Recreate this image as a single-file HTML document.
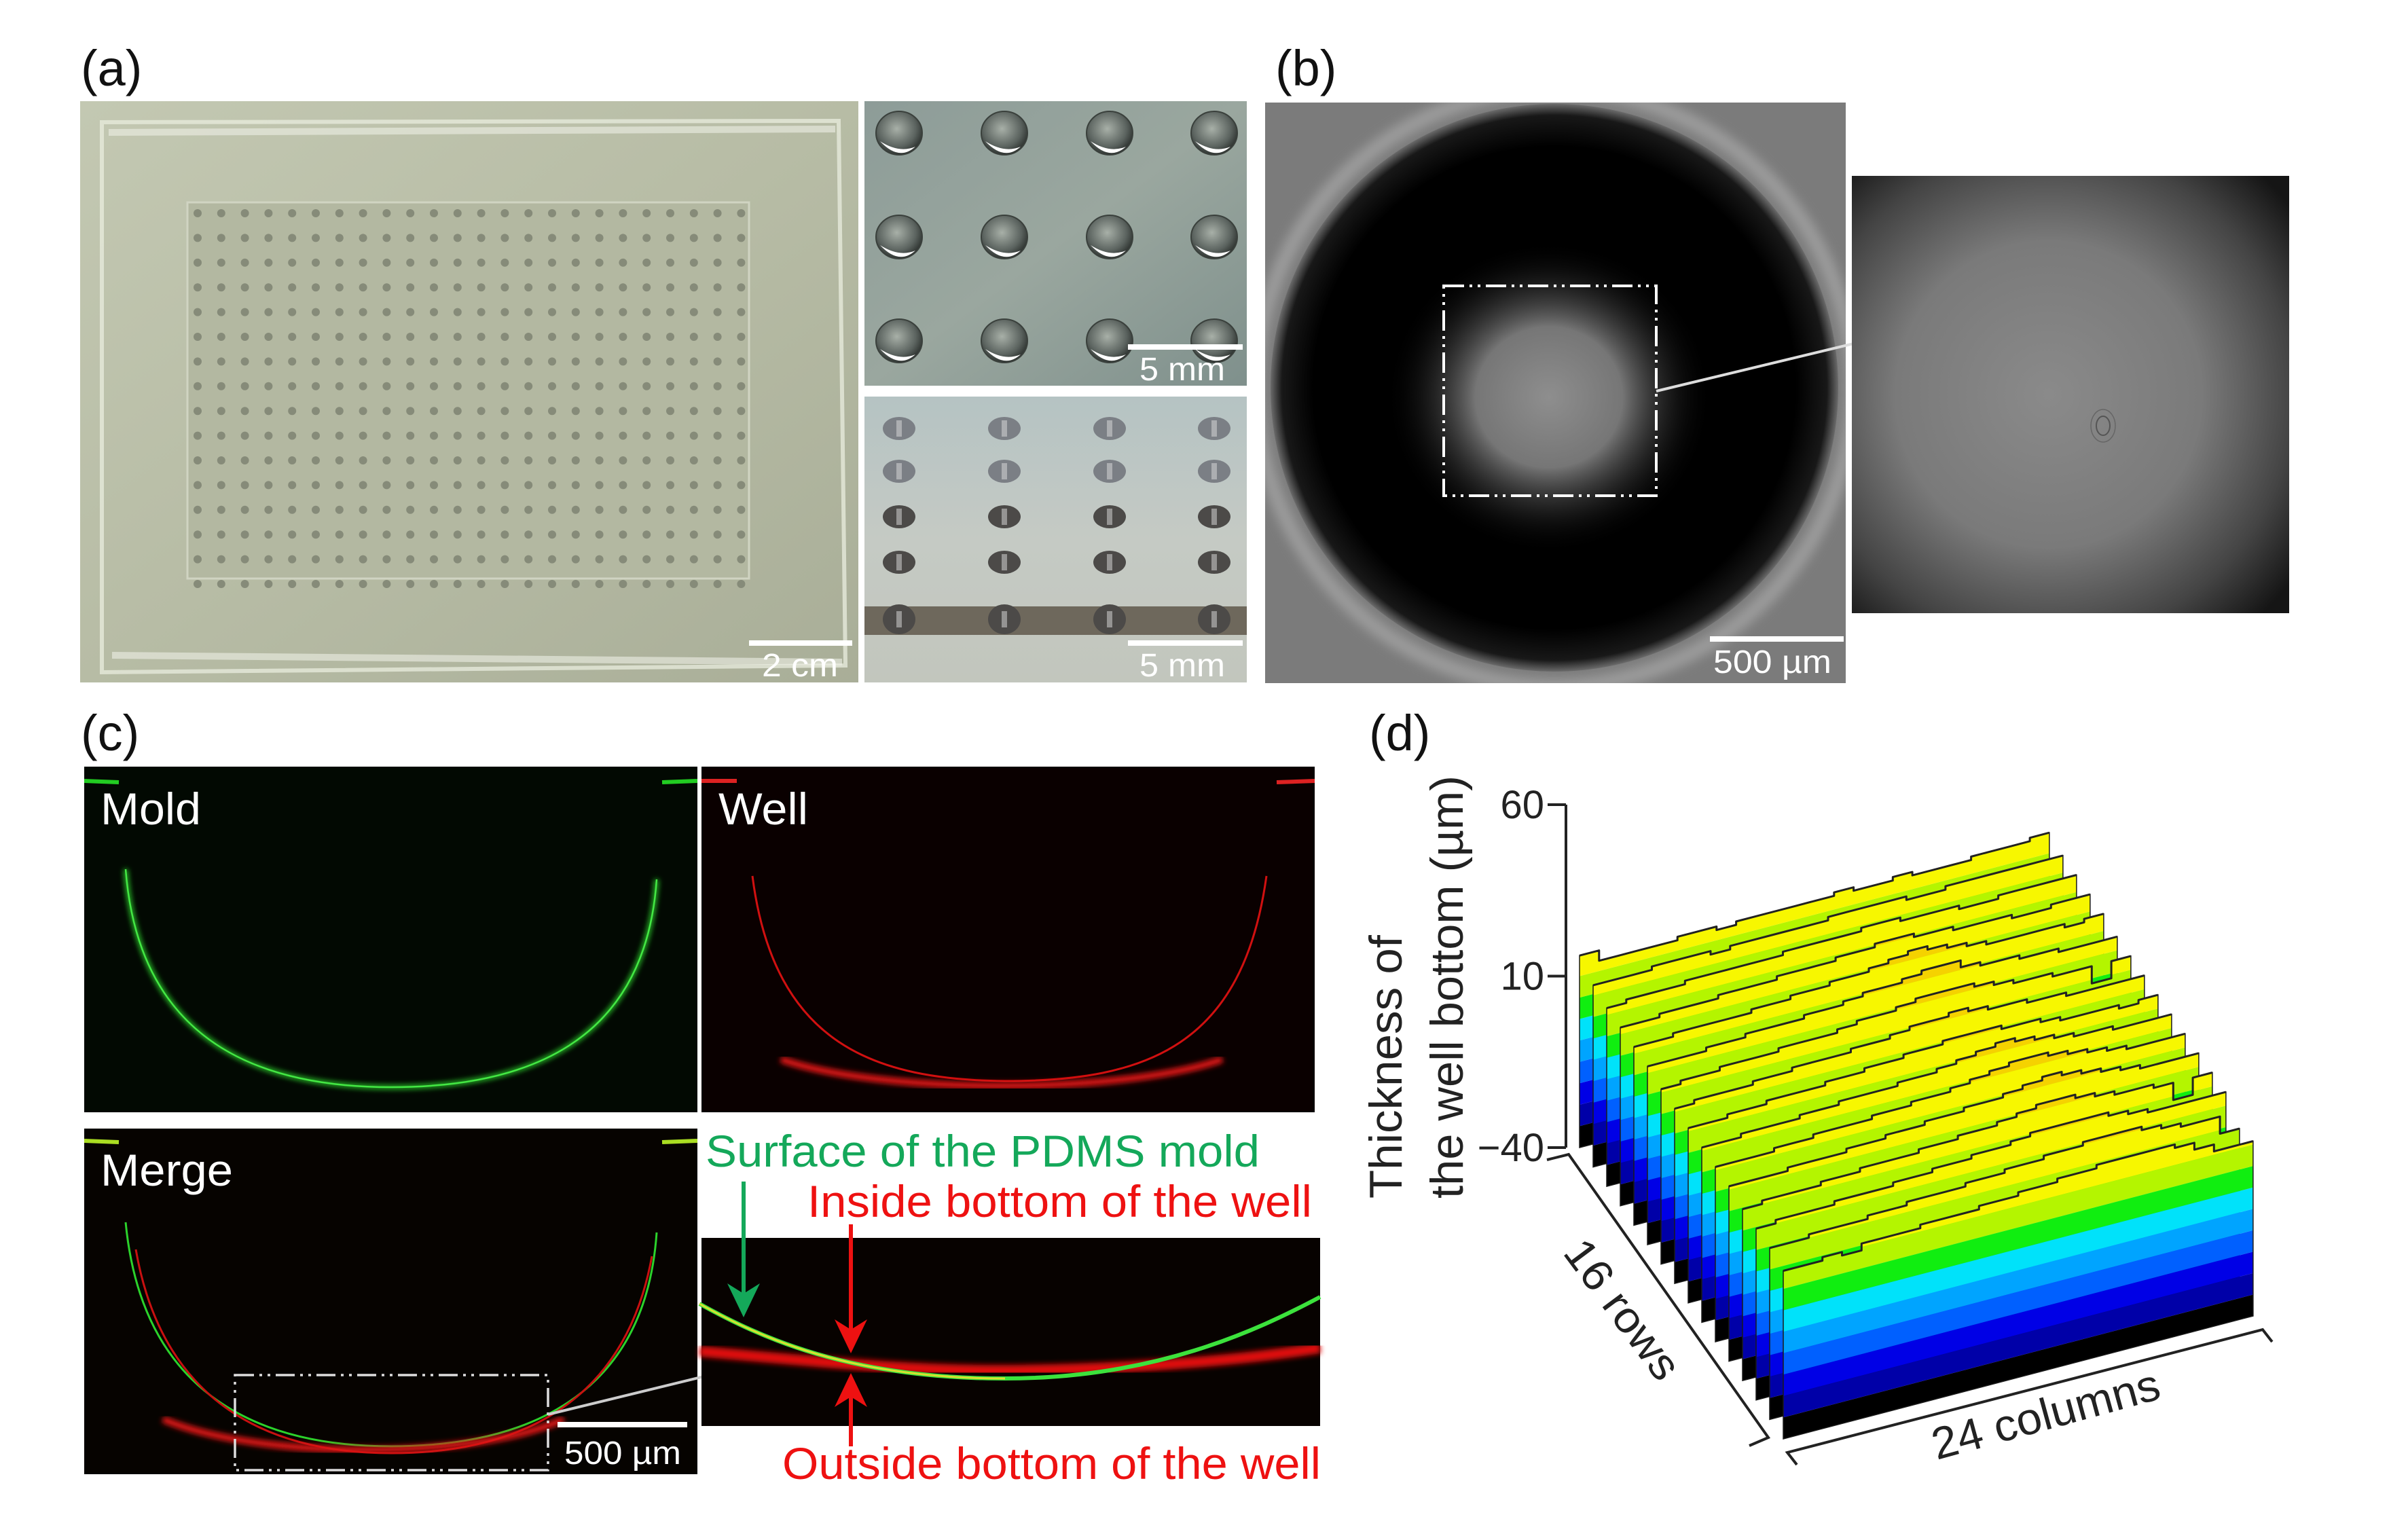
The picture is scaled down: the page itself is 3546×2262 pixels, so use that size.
<!DOCTYPE html>
<html><head><meta charset="utf-8"><style>
html,body{margin:0;padding:0;background:#fff;}
svg{display:block;}
text{font-family:"Liberation Sans",Arial,sans-serif;}
</style></head><body>
<svg id="fig" xmlns="http://www.w3.org/2000/svg" width="3546" height="2262" viewBox="0 0 3546 2262">
<defs>
  <linearGradient id="gA" x1="0" y1="0" x2="1" y2="1"><stop offset="0" stop-color="#c3c8b2"/><stop offset="0.5" stop-color="#b7bca5"/><stop offset="1" stop-color="#a9ae98"/></linearGradient>
  <linearGradient id="gTR" x1="0" y1="0" x2="1" y2="1"><stop offset="0" stop-color="#8d9c98"/><stop offset="0.5" stop-color="#9aa79f"/><stop offset="1" stop-color="#7f908c"/></linearGradient>
  <linearGradient id="gBR" x1="0" y1="0" x2="0" y2="1"><stop offset="0" stop-color="#b5c3c3"/><stop offset="0.5" stop-color="#c5cac4"/><stop offset="1" stop-color="#c2c6bd"/></linearGradient>
  <radialGradient id="gWell" cx="0.45" cy="0.4" r="0.6"><stop offset="0" stop-color="#a8b0a8"/><stop offset="0.7" stop-color="#5a625e"/><stop offset="1" stop-color="#2e3330"/></radialGradient>
  <radialGradient id="gBlack" cx="0.5" cy="0.5" r="0.5"><stop offset="0.85" stop-color="#000"/><stop offset="0.96" stop-color="#181818"/><stop offset="1" stop-color="#6a6a6a"/></radialGradient>
  <radialGradient id="gGlow" cx="0.5" cy="0.5" r="0.5"><stop offset="0" stop-color="#8e8e8e"/><stop offset="0.45" stop-color="#767676"/><stop offset="1" stop-color="#000" stop-opacity="0"/></radialGradient>
  <radialGradient id="gZoomB" cx="0.45" cy="0.5" r="0.7"><stop offset="0" stop-color="#8a8a8a"/><stop offset="0.5" stop-color="#7a7a7a"/><stop offset="0.8" stop-color="#444"/><stop offset="1" stop-color="#151515"/></radialGradient>
  <filter id="blur4"><feGaussianBlur stdDeviation="4"/></filter>
  <filter id="blur8"><feGaussianBlur stdDeviation="8"/></filter>
</defs>

<text x="119" y="126" font-size="74" fill="#111">(a)</text>
<text x="1878" y="126" font-size="74" fill="#111">(b)</text>
<text x="119" y="1105" font-size="74" fill="#111">(c)</text>
<text x="2016" y="1105" font-size="74" fill="#111">(d)</text>

<g>
  <rect x="118" y="149" width="1146" height="856" fill="url(#gA)"/>
  <path d="M150 180 L1235 178 L1245 980 L150 990 Z" fill="none" stroke="#e6eadb" stroke-width="6" opacity="0.8"/>
  <path d="M160 195 L1230 190" stroke="#eef0e6" stroke-width="10" opacity="0.6"/>
  <path d="M165 965 L1240 975" stroke="#eef0e6" stroke-width="10" opacity="0.6"/>
  <rect x="276" y="298" width="827" height="554" fill="#b3b8a1" stroke="#d0d4c2" stroke-width="3"/>
  <g id="dotgrid"></g>
  <line x1="1103" y1="947" x2="1255" y2="947" stroke="#fff" stroke-width="8"/>
  <text x="1122" y="996" font-size="48" fill="#fff" textLength="112" lengthAdjust="spacingAndGlyphs">2 cm</text>
</g>

<g>
  <rect x="1273" y="149" width="563" height="419" fill="url(#gTR)"/>
  <g id="wellsTop"></g>
  <line x1="1661" y1="511" x2="1830" y2="511" stroke="#fff" stroke-width="8"/>
  <text x="1678" y="560" font-size="48" fill="#fff" textLength="126" lengthAdjust="spacingAndGlyphs">5 mm</text>
</g>

<g>
  <rect x="1273" y="584" width="563" height="421" fill="url(#gBR)"/>
  <rect x="1273" y="893" width="563" height="42" fill="#6e685c"/>
  <g id="wellsSide"></g>
  <line x1="1661" y1="947" x2="1830" y2="947" stroke="#fff" stroke-width="8"/>
  <text x="1678" y="996" font-size="48" fill="#fff" textLength="126" lengthAdjust="spacingAndGlyphs">5 mm</text>
</g>

<g>
  <svg x="1863" y="151" width="855" height="855" viewBox="1863 151 855 855" overflow="hidden">
    <rect x="1863" y="151" width="855" height="855" fill="#7b7b7b"/>
    <ellipse cx="2289" cy="571" rx="440" ry="440" fill="none" stroke="#9c9c9c" stroke-width="22" filter="url(#blur8)"/>
    <ellipse cx="2289" cy="571" rx="418" ry="418" fill="url(#gBlack)"/>
    <ellipse cx="2281" cy="585" rx="240" ry="230" fill="url(#gGlow)"/>
  </svg>
  <rect x="2126" y="421" width="313" height="309" fill="none" stroke="#fff" stroke-width="4" stroke-dasharray="30 8 4 8 4 8"/>
  <line x1="2439" y1="576" x2="2742" y2="503" stroke="#ddd" stroke-width="4"/>
  <line x1="2518" y1="941" x2="2715" y2="941" stroke="#fff" stroke-width="8"/>
  <text x="2523" y="991" font-size="48" fill="#fff" textLength="174" lengthAdjust="spacingAndGlyphs">500 µm</text>
</g>
<g>
  <rect x="2727" y="259" width="644" height="644" fill="url(#gZoomB)"/>
  <ellipse cx="3097" cy="627" rx="10" ry="14" fill="none" stroke="#555" stroke-width="2"/>
  <ellipse cx="3097" cy="627" rx="18" ry="24" fill="none" stroke="#666" stroke-width="1.5"/>
</g>

<g>
  <rect x="124" y="1129" width="903" height="509" fill="#020902"/>
  <path d="M185 1280 C 205 1540 390 1601 576 1601 C 770 1601 950 1540 967 1295" fill="none" stroke="#2bd22b" stroke-width="6" filter="url(#blur4)"/>
  <path d="M185 1280 C 205 1540 390 1601 576 1601 C 770 1601 950 1540 967 1295" fill="none" stroke="#44e844" stroke-width="2.5"/>
  <path d="M124 1150 L175 1152" stroke="#2c2" stroke-width="6"/><path d="M975 1152 L1027 1150" stroke="#2c2" stroke-width="6"/>
  <text x="148" y="1214" font-size="66" fill="#fff" textLength="148" lengthAdjust="spacingAndGlyphs">Mold</text>
</g>
<g>
  <rect x="1033" y="1129" width="903" height="509" fill="#0a0000"/>
  <path d="M1108 1290 C 1140 1540 1290 1590 1480 1592 C 1690 1592 1830 1540 1865 1290" fill="none" stroke="#d01010" stroke-width="3"/>
  <path d="M1150 1560 C 1300 1612 1650 1612 1800 1560" fill="none" stroke="#e01515" stroke-width="10" filter="url(#blur4)"/>
  <path d="M1033 1150 L1085 1150" stroke="#d22" stroke-width="6"/><path d="M1880 1152 L1936 1150" stroke="#d22" stroke-width="6"/>
  <text x="1058" y="1214" font-size="66" fill="#fff" textLength="132" lengthAdjust="spacingAndGlyphs">Well</text>
</g>
<g>
  <rect x="124" y="1662" width="903" height="509" fill="#060300"/>
  <path d="M185 1800 C 210 2060 390 2130 576 2130 C 770 2130 950 2060 967 1815" fill="none" stroke="#2bd22b" stroke-width="3"/>
  <path d="M200 1840 C 240 2070 400 2140 576 2140 C 760 2140 920 2070 960 1850" fill="none" stroke="#c81010" stroke-width="3"/>
  <path d="M240 2090 C 380 2150 700 2150 830 2090" fill="none" stroke="#e01515" stroke-width="10" filter="url(#blur4)"/>
  <path d="M124 1680 L175 1682" stroke="#ad2" stroke-width="6"/><path d="M975 1682 L1027 1680" stroke="#ad2" stroke-width="6"/>
  <text x="148" y="1746" font-size="66" fill="#fff" textLength="195" lengthAdjust="spacingAndGlyphs">Merge</text>
  <rect x="346" y="2025" width="461" height="140" fill="none" stroke="#ddd" stroke-width="3.5" stroke-dasharray="28 8 4 8 4 8"/>
  <line x1="807" y1="2083" x2="1045" y2="2025" stroke="#ccc" stroke-width="4"/>
  <line x1="821" y1="2098" x2="1012" y2="2098" stroke="#fff" stroke-width="8"/>
  <text x="831" y="2156" font-size="48" fill="#fff" textLength="172" lengthAdjust="spacingAndGlyphs">500 µm</text>
</g>
<g>
  <rect x="1033" y="1823" width="911" height="277" fill="#070200"/>
  <path d="M1030 1990 C 1200 2005 1350 2020 1500 2018 C 1700 2015 1850 2000 1944 1985" fill="none" stroke="#e01010" stroke-width="16" filter="url(#blur4)"/>
  <path d="M1030 1920 C 1120 1970 1250 2030 1480 2030 C 1700 2030 1850 1960 1944 1910" fill="none" stroke="#3ce23c" stroke-width="6"/>
  <path d="M1030 1920 C 1120 1970 1250 2030 1480 2030" fill="none" stroke="#d8e030" stroke-width="3"/>
</g>
<text x="1039" y="1718" font-size="66" fill="#14a85a" textLength="816" lengthAdjust="spacingAndGlyphs">Surface of the PDMS mold</text>
<text x="1189" y="1792" font-size="66" fill="#ee1111" textLength="743" lengthAdjust="spacingAndGlyphs">Inside bottom of the well</text>
<text x="1152" y="2178" font-size="66" fill="#ee1111" textLength="793" lengthAdjust="spacingAndGlyphs">Outside bottom of the well</text>
<g>
  <line x1="1095" y1="1740" x2="1095" y2="1920" stroke="#14a85a" stroke-width="6"/>
  <path d="M1071 1890 L1095 1940 L1119 1890 L1095 1905 Z" fill="#14a85a"/>
</g>
<g>
  <line x1="1253" y1="1803" x2="1253" y2="1975" stroke="#ee1111" stroke-width="6"/>
  <path d="M1229 1943 L1253 1993 L1277 1943 L1253 1958 Z" fill="#ee1111"/>
</g>
<g>
  <line x1="1253" y1="2040" x2="1253" y2="2130" stroke="#ee1111" stroke-width="6"/>
  <path d="M1229 2072 L1253 2022 L1277 2072 L1253 2057 Z" fill="#ee1111"/>
</g>

<g id="chart">
  <defs id="chartDefs"></defs>
  <g id="ribbons"></g>
  <g id="axes"></g>
</g>
</svg>

<script>
const zTicks = [60, 10, -40];
const zTickLabels = ['60', '10', '\u221240'];
const bandLevels = [-40, -33.75, -27.5, -21.25, -15, -8.75, -2.5, 3.75, 10, 16.25, 22.5];
const bandColors = ['#000000', '#0000a8', '#0000e6', '#0060ff', '#00a4ff', '#00e2fa', '#10ee10', '#b4f500', '#f7f700', '#f5d200'];
const row01 = [16,13,13,13,13,14,14,13,14,14,14,14,14,15,14,14,15,14,14,14,15,15,15,16];
const row02 = [13,13,13,14,14,14,13,14,14,14,14,14,15,15,15,15,14,14,15,15,15,15,15,15];
const row03 = [12,13,13,13,14,14,14,14,14,15,15,15,15,16,16,15,15,15,14,14,15,15,15,15];
const row04 = [12,12,13,13,13,14,14,14,15,15,15,16,16,17,17,16,16,15,15,15,14,14,15,15];
const row05 = [12,12,13,13,13,13,14,14,15,15,16,16,17,18,19,18,17,16,15,15,15,15,14,15];
const row06 = [12,12,12,13,13,14,14,14,15,15,16,17,17,18,19,19,17,16,16,15,15,14,14,14];
const row07 = [11,12,12,13,13,13,14,14,14,15,16,16,17,18,18,18,17,16,15,15,14,14,9,14];
const row08 = [11,12,12,12,13,13,14,14,14,15,15,16,17,17,18,17,16,16,15,15,14,14,14,14];
const row09 = [11,11,12,12,13,13,13,14,14,15,15,16,16,17,17,17,16,16,15,14,14,14,13,14];
const row10 = [11,11,12,12,12,13,13,14,14,14,15,15,16,17,18,19,18,17,16,15,15,14,14,14];
const row11 = [11,11,11,12,12,13,13,13,14,14,15,15,16,17,18,19,19,18,17,16,15,14,14,14];
const row12 = [11,11,11,12,12,12,13,13,14,14,15,15,16,16,17,18,19,18,17,16,15,14,14,14];
const row13 = [10,11,11,11,12,12,13,13,13,14,14,15,15,16,17,18,18,17,16,15,15,14,9,14];
const row14 = [10,11,11,11,12,12,12,13,13,14,14,15,15,16,17,17,17,17,16,15,14,14,14,14];
const row15 = [10,10,11,11,11,12,12,13,13,13,14,14,15,15,16,16,17,17,17,16,15,14,14,9];
const row16 = [9,9,10,9,11,11,11,12,12,12,13,13,14,14,15,15,16,16,16,16,15,13,11,11];
const rowsData = [row01,row02,row03,row04,row05,row06,row07,row08,row09,row10,row11,row12,row13,row14,row15,row16];

const NS = 'http://www.w3.org/2000/svg';
function mk(tag, attrs, parent){ const e=document.createElementNS(NS,tag); for(const k in attrs) e.setAttribute(k, attrs[k]); if(parent) parent.appendChild(e); return e; }

const X0 = 2326, Y0 = 1690, RDX = 20, RDY = 28.6, CDX = 28.83, CDY = -7.54, ZS = 5.05, ZMIN = -40;
function px(c, r){ return X0 + RDX*r + CDX*c; }
function py(c, r, z){ return Y0 + RDY*r + CDY*c - (z - ZMIN)*ZS; }
function pt(c, r, z){ return px(c,r).toFixed(1)+','+py(c,r,z).toFixed(1); }

const ribbons = document.getElementById('ribbons');
const defs = document.getElementById('chartDefs');
const nCols = rowsData[0].length;
rowsData.forEach(function(vals, r){
  const pts = [pt(0,r,ZMIN)];
  let topPath = '';
  for (let c=0;c<nCols;c++){
    pts.push(pt(c,r,vals[c])); pts.push(pt(c+1,r,vals[c]));
    topPath += (c===0?'M':'L') + pt(c,r,vals[c]) + ' L' + pt(c+1,r,vals[c]) + ' ';
  }
  pts.push(pt(nCols,r,ZMIN));
  const cp = mk('clipPath', {id:'rib'+r}, defs);
  mk('polygon', {points: pts.join(' ')}, cp);
  const g = mk('g', {'clip-path':'url(#rib'+r+')'}, ribbons);
  
  
  for (let b=0;b<bandColors.length;b++){
    const z1 = bandLevels[b], z2 = bandLevels[b+1] + (b===bandColors.length-1 ? 50 : 0);
    const poly = mk('polygon', {points: [pt(0,r,z1),pt(nCols,r,z1),pt(nCols,r,z2),pt(0,r,z2)].join(' '), fill: bandColors[b]}, g);
    
    
  }
  const outline = mk('polygon', {points: pts.join(' '), fill:'none', stroke:'#1a1a1a', 'stroke-width':'1.5'}, ribbons);
  
  
  const edge = mk('path', {d: topPath, fill:'none', stroke:'#222', 'stroke-width':'3', 'stroke-linejoin':'round'}, ribbons);
  
  
});

const axes = document.getElementById('axes');
const AX = X0 - 20;
const zAxis = mk('line', {x1:AX, y1:py(0,0,zTicks[0]), x2:AX, y2:py(0,0,ZMIN), stroke:'#222', 'stroke-width':'4'}, axes);


zTicks.forEach(function(t, i){
  const y = py(0,0,t);
  const tk = mk('line', {x1:AX-27, y1:y, x2:AX, y2:y, stroke:'#222', 'stroke-width':'4'}, axes);
  
  
  const tx = mk('text', {x:AX-32, y:y+20, 'font-size':'58', 'text-anchor':'end', fill:'#222'}, axes);
  
  
  tx.textContent = zTickLabels[i];
});
const ra = mk('path', {d:'M'+(AX-28)+','+(py(0,0,ZMIN)+18)+' L'+(px(0,0)-16)+','+(py(0,0,ZMIN)+10)+' L'+(px(0,15)-22)+','+(py(0,15,ZMIN)-2)+' L'+(px(0,15)-50)+','+(py(0,15,ZMIN)+10), fill:'none', stroke:'#222', 'stroke-width':'4'}, axes);


const cx1 = px(0,15)+6, cy1 = py(0,15,ZMIN)+20, cx2 = px(nCols,15)+14, cy2 = py(nCols,15,ZMIN)+20;
const ca = mk('path', {d:'M'+(cx1+14)+','+(cy1+18)+' L'+cx1+','+cy1+' L'+cx2+','+cy2+' L'+(cx2+14)+','+(cy2+18), fill:'none', stroke:'#222', 'stroke-width':'4'}, axes);



const dg = document.getElementById('dotgrid');
for (let i=0;i<16;i++) for (let j=0;j<24;j++){
  const x = 291 + j*34.8, y = 314 + i*36.4;
  const d = mk('circle', {cx:x, cy:y, r:6, fill:'#868b79'}, dg);
  
  
}
const wt = document.getElementById('wellsTop');
[1324,1479,1634,1788].forEach(function(x){ [196,349,502].forEach(function(y){
  const w = mk('ellipse', {cx:x, cy:y, rx:34, ry:32, fill:'url(#gWell)', stroke:'#3a403c', 'stroke-width':'2'}, wt);
  
  
  mk('path', {d:'M'+(x-28)+','+(y+12)+' Q'+x+','+(y+42)+' '+(x+24)+','+(y+20)+' Q'+x+','+(y+30)+' '+(x-28)+','+(y+12)+'Z', fill:'#fff'}, wt);
}); });
const ws = document.getElementById('wellsSide');
[1324,1479,1634,1788].forEach(function(x){ [631,694,761,828,912].forEach(function(y,k){
  const w = mk('ellipse', {cx:x, cy:y, rx:24, ry:k===4?22:17, fill:k<2?'#7b7f85':'#4c4a48'}, ws);
  
  
  mk('rect', {x:x-4, y:y-12, width:8, height:24, fill:'#ddd', opacity:0.5}, ws);
}); });
</script>
<script>
(function(){
  const svg = document.getElementById('fig');
  const NS='http://www.w3.org/2000/svg';
  const t1 = document.createElementNS(NS,'text');
  
  
  t1.setAttribute('transform','translate(2064,1765) rotate(-90)');
  t1.setAttribute('font-size','68'); t1.setAttribute('fill','#222');
  t1.setAttribute('textLength','388'); t1.setAttribute('lengthAdjust','spacingAndGlyphs');
  t1.textContent='Thickness of'; svg.appendChild(t1);
  const t2 = document.createElementNS(NS,'text');
  
  
  t2.setAttribute('transform','translate(2154,1765) rotate(-90)');
  t2.setAttribute('font-size','68'); t2.setAttribute('fill','#222');
  t2.setAttribute('textLength','623'); t2.setAttribute('lengthAdjust','spacingAndGlyphs');
  t2.textContent='the well bottom (\u00b5m)'; svg.appendChild(t2);
  const t3 = document.createElementNS(NS,'text');
  
  
  t3.setAttribute('transform','translate(2300,1845) rotate(53.3)');
  t3.setAttribute('font-size','64'); t3.setAttribute('fill','#222');
  t3.setAttribute('textLength','240'); t3.setAttribute('lengthAdjust','spacingAndGlyphs');
  t3.textContent='16 rows'; svg.appendChild(t3);
  const t4 = document.createElementNS(NS,'text');
  
  
  t4.setAttribute('transform','translate(2852,2150) rotate(-15.3)');
  t4.setAttribute('font-size','66'); t4.setAttribute('fill','#222');
  t4.setAttribute('textLength','345'); t4.setAttribute('lengthAdjust','spacingAndGlyphs');
  t4.textContent='24 columns'; svg.appendChild(t4);
})();
</script>
</body></html>
